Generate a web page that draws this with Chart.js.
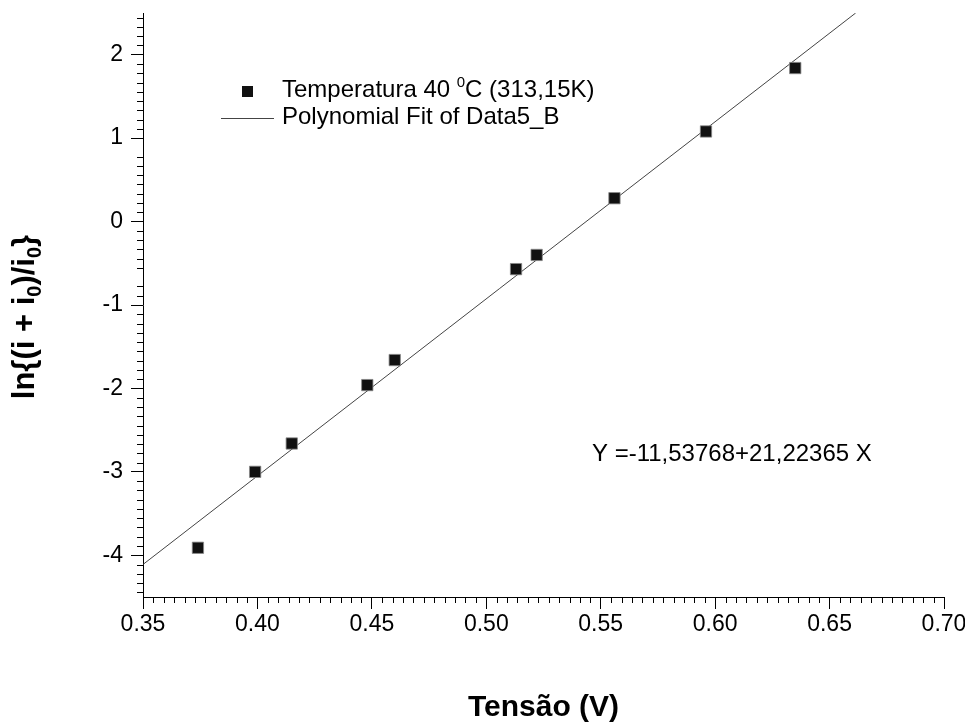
<!DOCTYPE html>
<html><head><meta charset="utf-8">
<script src="https://cdn.jsdelivr.net/npm/chart.js@4/dist/chart.umd.min.js"></script>
<style>html,body{margin:0;padding:0;background:#fff}#wrap{width:965px;height:722px}</style>
</head><body><div id="wrap"><canvas id="c" width="965" height="722"></canvas></div>
<script>
// ---- data ----
const tensao   = [0.374, 0.399, 0.415, 0.448, 0.460, 0.513, 0.522, 0.556, 0.596, 0.635];
const lnRatio  = [-3.91, -3.00, -2.66, -1.96, -1.66, -0.57, -0.40, 0.28, 1.08, 1.84];
const fitX     = [0.35, 0.6614];
const fitY     = [-4.11, 2.50];
const xTicks   = [0.35, 0.40, 0.45, 0.50, 0.55, 0.60, 0.65, 0.70];
const yTicks   = [-4, -3, -2, -1, 0, 1, 2];
const xTitle   = 'Tensão (V)';
const seriesName = ['Temperatura 40 ', '0', 'C (313,15K)'];
const fitName  = 'Polynomial Fit of Data5_B';
const equation = 'Y =-11,53768+21,22365 X';

const FONT = "'Liberation Sans', Arial, Helvetica, sans-serif";
const X_MINOR = 10, Y_MINOR = 8;

const extras = {
  id: 'extras',
  afterDraw(chart) {
    const {ctx, scales: {x, y}} = chart;
    ctx.save();
    // minor ticks
    ctx.strokeStyle = '#000'; ctx.lineWidth = 1;
    ctx.beginPath();
    for (let i = 0; i < xTicks.length - 1; i++) {
      const a = xTicks[i], b = xTicks[i + 1];
      for (let k = 1; k <= X_MINOR; k++) {
        const px = Math.round(x.getPixelForValue(a + (b - a) * k / (X_MINOR + 1))) + 0.5;
        ctx.moveTo(px, y.bottom); ctx.lineTo(px, y.bottom + 6);
      }
    }
    const ystep = 1 / (Y_MINOR + 1);
    for (let v = y.min; v <= y.max + 1e-9; v += ystep) {
      const r = Math.round(v * 9) / 9;
      if (Math.abs(r - Math.round(r)) < 1e-6) continue;
      if (r < y.min - 1e-9 || r > y.max + 1e-9) continue;
      const py = Math.round(y.getPixelForValue(r)) + 0.5;
      ctx.moveTo(x.left, py); ctx.lineTo(x.left - 6, py);
    }
    ctx.stroke();

    // legend
    ctx.textBaseline = 'alphabetic';
    ctx.fillStyle = '#111';
    ctx.fillRect(242, 86, 11, 11);
    ctx.fillStyle = '#000';
    ctx.font = `24px ${FONT}`;
    let tx = 282;
    ctx.fillText(seriesName[0], tx, 97); tx += ctx.measureText(seriesName[0]).width;
    ctx.font = `15px ${FONT}`;
    ctx.fillText(seriesName[1], tx, 87); tx += ctx.measureText(seriesName[1]).width;
    ctx.font = `24px ${FONT}`;
    ctx.fillText(seriesName[2], tx, 97);
    ctx.strokeStyle = '#444'; ctx.lineWidth = 1;
    ctx.beginPath(); ctx.moveTo(221, 118.5); ctx.lineTo(274, 118.5); ctx.stroke();
    ctx.fillText(fitName, 282, 124);

    // equation
    ctx.fillText(equation, 592, 461);

    // y title with subscripts
    const parts = [['ln{(i + i', 0], ['0', 1], [')/i', 0], ['0', 1], ['}', 0]];
    const big = `bold 31px ${FONT}`, small = `bold 20px ${FONT}`;
    let total = 0;
    parts.forEach(([t, s]) => { ctx.font = s ? small : big; total += ctx.measureText(t).width; });
    ctx.translate(34, 317);
    ctx.rotate(-Math.PI / 2);
    let u = -total / 2;
    parts.forEach(([t, s]) => {
      ctx.font = s ? small : big;
      ctx.fillText(t, u, s ? 7 : 0);
      u += ctx.measureText(t).width;
    });
    ctx.restore();
  }
};

new Chart(document.getElementById('c'), {
  type: 'scatter',
  data: {
    datasets: [
      {
        label: seriesName.join(''),
        data: tensao.map((v, i) => ({x: v, y: lnRatio[i]})),
        pointStyle: 'rect', pointRadius: 8, pointHoverRadius: 8,
        backgroundColor: '#111', borderColor: '#888', borderWidth: 0.8,
        showLine: false, order: 1
      },
      {
        label: fitName,
        data: fitX.map((v, i) => ({x: v, y: fitY[i]})),
        showLine: true, pointRadius: 0, borderColor: '#444', borderWidth: 1,
        fill: false, order: 2
      }
    ]
  },
  options: {
    responsive: false, animation: false, devicePixelRatio: 1,
    layout: {padding: {left: 0, top: 13, right: 21, bottom: 0}},
    plugins: {legend: {display: false}, tooltip: {enabled: false}},
    scales: {
      x: {
        type: 'linear', min: 0.35, max: 0.70,
        afterBuildTicks: s => { s.ticks = xTicks.map(v => ({value: v})); },
        ticks: {callback: v => Number(v).toFixed(2), color: '#000', font: {family: FONT, size: 23}, padding: 2, maxRotation: 0, autoSkip: false},
        grid: {drawOnChartArea: false, drawTicks: true, tickLength: 12, tickColor: '#000', tickWidth: 1},
        border: {display: true, color: '#000', width: 1},
        title: {display: true, text: xTitle, color: '#000', font: {family: FONT, size: 30, weight: 'bold'}, padding: {top: 0, bottom: -4}},
        afterFit: s => { s.height = 125; s.paddingLeft = 0; s.paddingRight = 0; }
      },
      y: {
        type: 'linear', min: -4.5, max: 2.5,
        afterBuildTicks: s => { s.ticks = yTicks.map(v => ({value: v})); },
        ticks: {callback: v => String(v), color: '#000', font: {family: FONT, size: 23}, padding: 8},
        grid: {drawOnChartArea: false, drawTicks: true, tickLength: 12, tickColor: '#000', tickWidth: 1},
        border: {display: true, color: '#000', width: 1},
        afterFit: s => { s.width = 143; s.paddingTop = 0; s.paddingBottom = 0; }
      }
    }
  },
  plugins: [extras]
});
</script>
</body></html>
